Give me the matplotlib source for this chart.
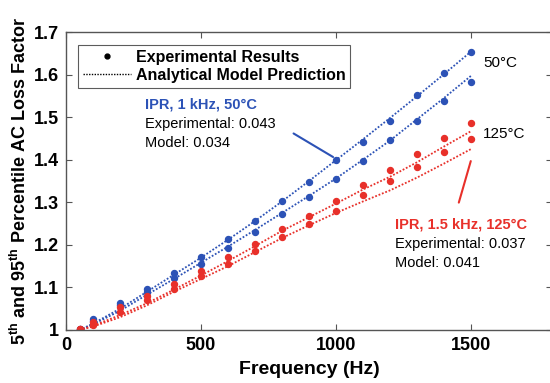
import matplotlib
matplotlib.use("Agg")
import matplotlib.pyplot as plt
import numpy as np

plt.rcParams['font.family'] = ['Liberation Sans', 'DejaVu Sans']
plt.rcParams['mathtext.fontset'] = 'custom'
plt.rcParams['mathtext.rm'] = 'Liberation Sans'
plt.rcParams['mathtext.bf'] = 'Liberation Sans:bold'

freq = [50, 100, 200, 300, 400, 500, 600, 700, 800, 900, 1000, 1100, 1200, 1300, 1400, 1500]

exp_50_95 = [1.003, 1.026, 1.063, 1.097, 1.135, 1.172, 1.213, 1.255, 1.303, 1.348, 1.399, 1.442, 1.491, 1.552, 1.604, 1.654]
exp_50_5 = [1.003, 1.022, 1.058, 1.090, 1.121, 1.155, 1.193, 1.231, 1.272, 1.312, 1.355, 1.398, 1.447, 1.492, 1.538, 1.583]
exp_125_95 = [1.003, 1.018, 1.053, 1.080, 1.108, 1.139, 1.171, 1.202, 1.237, 1.268, 1.304, 1.341, 1.377, 1.414, 1.451, 1.486]
exp_125_5 = [1.002, 1.012, 1.043, 1.070, 1.096, 1.127, 1.155, 1.186, 1.218, 1.249, 1.280, 1.316, 1.351, 1.382, 1.417, 1.449]

mod_50_95 = [1.0, 1.015, 1.050, 1.090, 1.130, 1.170, 1.212, 1.256, 1.302, 1.350, 1.399, 1.448, 1.498, 1.549, 1.601, 1.654]
mod_50_5 = [1.0, 1.013, 1.045, 1.083, 1.120, 1.158, 1.196, 1.235, 1.275, 1.315, 1.356, 1.400, 1.445, 1.495, 1.545, 1.597]
mod_125_95 = [1.0, 1.010, 1.035, 1.063, 1.095, 1.128, 1.162, 1.197, 1.233, 1.265, 1.297, 1.330, 1.360, 1.394, 1.431, 1.467]
mod_125_5 = [1.0, 1.008, 1.030, 1.058, 1.090, 1.120, 1.150, 1.183, 1.216, 1.246, 1.275, 1.302, 1.328, 1.358, 1.391, 1.425]

yticks = [1.0, 1.1, 1.2, 1.3, 1.4, 1.5, 1.6, 1.7]
ytick_labels = ['1', '1.1', '1.2', '1.3', '1.4', '1.5', '1.6', '1.7']
xticks = [0, 500, 1000, 1500]
xtick_labels = ['0', '500', '1000', '1500']

BLUE = '#2c52b6'
RED = '#e8302a'

fig = plt.figure(figsize=(5.5, 3.83), dpi=100)
ax = fig.add_axes([66/550, 53/383, 486/550, 298/383])

ms = 4.3
for m, c in [(mod_50_95, BLUE), (mod_50_5, BLUE), (mod_125_95, RED), (mod_125_5, RED)]:
    ax.plot(freq, m, linestyle=(0, (1, 1)), color=c, lw=1.3)
for e, c in [(exp_50_95, BLUE), (exp_50_5, BLUE), (exp_125_95, RED), (exp_125_5, RED)]:
    ax.plot(freq, e, linestyle='none', marker='o', ms=ms, color=c)

ax.set_xlim(0, 1800)
ax.set_ylim(1.0, 1.7)
ax.set_xticks(xticks)
ax.set_xticklabels(xtick_labels, fontsize=13, fontweight='bold')
ax.set_yticks(yticks)
ax.set_yticklabels(ytick_labels, fontsize=13, fontweight='bold')
ax.tick_params(direction='in', top=True, right=True, length=4, color='#555555', width=0.8, pad=5)
for s in ax.spines.values():
    s.set_color('#555555')
    s.set_linewidth(1.0)

ax.set_xlabel('Frequency (Hz)', fontsize=14, fontweight='bold', labelpad=5)
ax.set_ylabel(r'5$^{\mathbf{th}}$ and 95$^{\mathbf{th}}$ Percentile AC Loss Factor',
              fontsize=13, fontweight='bold', labelpad=3)

# legend
h1, = ax.plot([], [], linestyle='none', marker='o', ms=3.5, color='black', label='Experimental Results')
h2, = ax.plot([], [], linestyle=(0, (1, 1)), color='black', lw=1.0, label='Analytical Model Prediction')
leg = ax.legend(handles=[h1, h2], loc='upper left', bbox_to_anchor=(12/486, 1 - 13/298),
                prop={'weight': 'bold', 'size': 11.5}, frameon=True, fancybox=False,
                edgecolor='#333333', borderpad=0.3, labelspacing=0.2, handlelength=3.0,
                handletextpad=0.3, borderaxespad=0)
leg.get_frame().set_linewidth(0.8)

ax.text(292, 1.53, 'IPR, 1 kHz, 50\u00b0C', color=BLUE, fontsize=10.5, fontweight='bold', va='center')
ax.text(292, 1.483, 'Experimental: 0.043', color='black', fontsize=10.5, va='center')
ax.text(292, 1.44, 'Model: 0.034', color='black', fontsize=10.5, va='center')
ax.annotate('', xy=(998, 1.403), xytext=(834, 1.465),
            arrowprops=dict(arrowstyle='-', color=BLUE, lw=1.5))

ax.text(1545, 1.627, '50\u00b0C', fontsize=11, va='center')
ax.text(1545, 1.460, '125\u00b0C', fontsize=11, va='center')

ax.text(1218, 1.248, 'IPR, 1.5 kHz, 125\u00b0C', color=RED, fontsize=10.5, fontweight='bold', va='center')
ax.text(1218, 1.201, 'Experimental: 0.037', color='black', fontsize=10.5, va='center')
ax.text(1218, 1.157, 'Model: 0.041', color='black', fontsize=10.5, va='center')
ax.annotate('', xy=(1502, 1.403), xytext=(1452, 1.293),
            arrowprops=dict(arrowstyle='-', color=RED, lw=1.5))

fig.savefig('out.png', dpi=100)
